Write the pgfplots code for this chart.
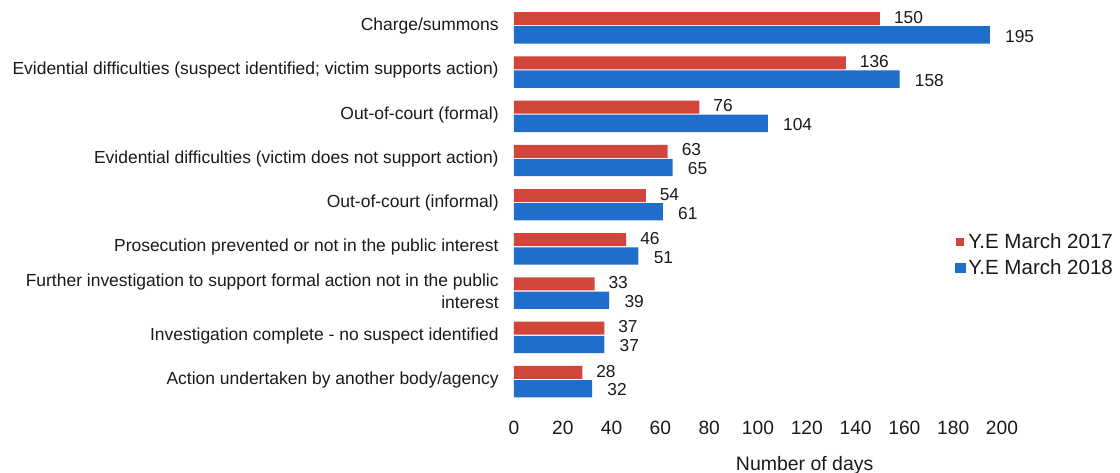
\documentclass[border=0pt]{standalone}
\usepackage{pgfplots}
\pgfplotsset{compat=1.18}
\usepackage{fontspec}
\setmainfont{Liberation Sans}
\definecolor{cred}{HTML}{D2453A}
\definecolor{cblue}{HTML}{1F6ECC}
\definecolor{ctext}{HTML}{1A1A1A}
\begin{document}
\begin{tikzpicture}
\begin{axis}[
  scale only axis,
  width=366pt, height=298.5pt,
  xmin=0, xmax=200, ymin=-0.5, ymax=8.5,
  xtick={0,20,...,200},
  ytick={0,1,2,3,4,5,6,7,8},
  yticklabels={
    Action undertaken by another body/agency,
    Investigation complete - no suspect identified,
    {Further investigation to support formal action not in the public\\interest},
    Prosecution prevented or not in the public interest,
    Out-of-court (informal),
    Evidential difficulties (victim does not support action),
    Out-of-court (formal),
    Evidential difficulties (suspect identified; victim supports action),
    Charge/summons},
  yticklabel style={font=\fontsize{13.1pt}{16.5pt}\selectfont, text=ctext, align=right, xshift=-8pt},
  xticklabel style={font=\fontsize{14.4pt}{16pt}\selectfont, text=ctext, yshift=-11pt},
  /pgf/number format/assume math mode=true,
  xlabel={Number of days},
  xlabel style={font=\fontsize{14.6pt}{16pt}\selectfont, text=ctext, yshift=-9pt, xshift=35pt},
  axis line style={draw=none},
  major tick length=0pt,
  tick style={draw=none},
  xbar,
  nodes near coords,
  nodes near coords style={font=\fontsize{13pt}{15pt}\selectfont, text=ctext, anchor=west},
  legend style={draw=none, fill=none, at={(0.895,0.37)}, anchor=west,
    font=\fontsize{15.4pt}{17pt}\selectfont, text=ctext, row sep=3pt},
  legend cell align=left,
]
\addplot[fill=cred, draw=none, bar width=9.75pt, bar shift=5.6pt,
  every node near coord/.append style={xshift=7pt, yshift=1pt},
  legend image code/.code={\fill[cred] (0pt,-3pt) rectangle (6pt,3pt);}]
  coordinates {(28,0) (37,1) (33,2) (46,3) (54,4) (63,5) (76,6) (136,7) (150,8)};
\addlegendentry{Y.E March 2017}
\addplot[fill=cblue, draw=none, bar width=13pt, bar shift=-6.6pt,
  every node near coord/.append style={xshift=8pt, yshift=-1pt},
  legend image code/.code={\fill[cblue] (-1pt,-4pt) rectangle (7pt,4pt);}]
  coordinates {(32,0) (37,1) (39,2) (51,3) (61,4) (65,5) (104,6) (158,7) (195,8)};
\addlegendentry{Y.E March 2018}
\end{axis}
\pgfresetboundingbox
\path[use as bounding box] (-385.5pt,-53.25pt) rectangle (454.5pt,301.5pt);
\end{tikzpicture}
\end{document}
